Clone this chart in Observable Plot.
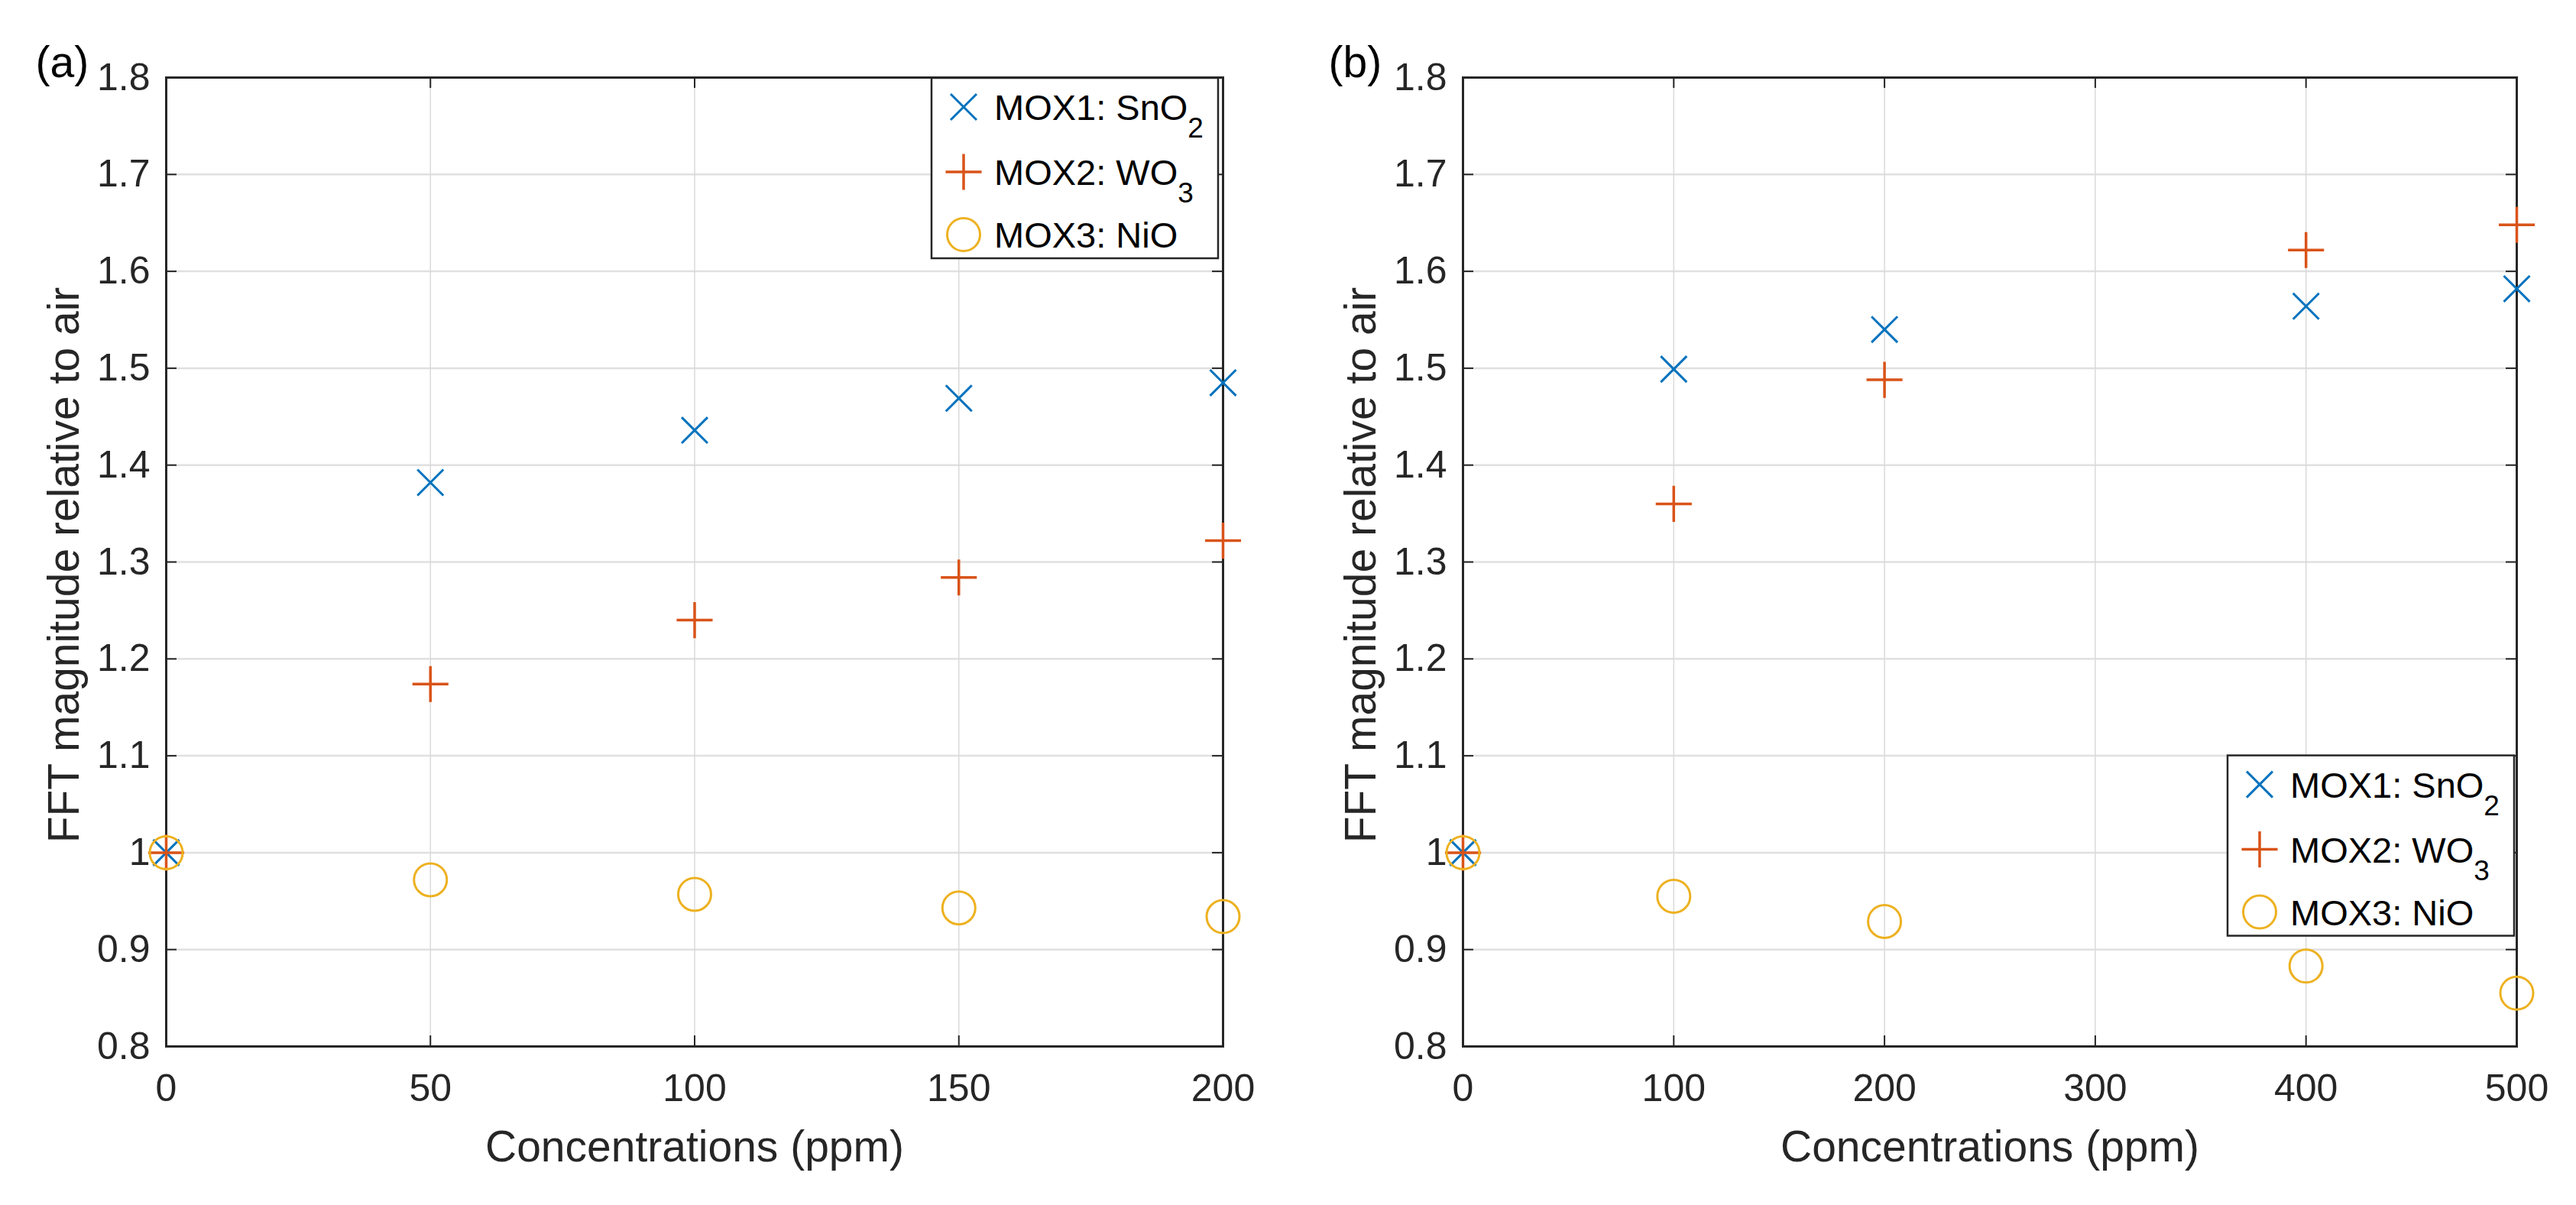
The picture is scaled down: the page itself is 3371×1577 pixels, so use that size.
<!DOCTYPE html>
<html>
<head>
<meta charset="utf-8">
<script src="https://cdn.jsdelivr.net/npm/d3@7"></script>
<script src="https://cdn.jsdelivr.net/npm/@observablehq/plot@0.6"></script>
<style>
  html, body { margin: 0; padding: 0; background: #fff; overflow: hidden; }
  #wrap { display: flex; width: 3371px; height: 1577px; }
  #wrap svg { display: block; }
</style>
</head>
<body>
<div id="wrap"></div>
<script>
// ---------- data ----------
const concA = [0, 50, 100, 150, 200];
const sno2A = [1.000, 1.382, 1.436, 1.469, 1.485];
const wo3A  = [1.000, 1.174, 1.240, 1.284, 1.322];
const nioA  = [1.000, 0.972, 0.957, 0.943, 0.934];

const concB = [0, 100, 200, 400, 500];
const sno2B = [1.000, 1.499, 1.540, 1.564, 1.582];
const wo3B  = [1.000, 1.360, 1.488, 1.622, 1.648];
const nioB  = [1.000, 0.955, 0.929, 0.883, 0.855];

const xTicksA = [0, 50, 100, 150, 200];
const xTicksB = [0, 100, 200, 300, 400, 500];
const yTicks = [0.8, 0.9, 1, 1.1, 1.2, 1.3, 1.4, 1.5, 1.6, 1.7, 1.8];

const seriesNames = ["MOX1: SnO", "MOX2: WO", "MOX3: NiO"];
const seriesSubs  = ["2", "3", ""];
const colors  = ["#0072BD", "#D95319", "#EDB120"];
const symbols = ["times", "plus", "circle"];
const d3symbols = [d3.symbolTimes, d3.symbolPlus, d3.symbolCircle];
const radii   = [15.5, 15.2, 21.5];
const strokeW = [3, 3.5, 3];

const xLabel = "Concentrations (ppm)";
const yLabel = "FFT magnitude relative to air";
const FONT = "'Liberation Sans', Arial, Helvetica, sans-serif";
const INK = "#262626";

function panel({conc, series, xTicks, xMax, width, marginLeft, marginRight, tag, tagDx, legendPos}) {
  const height = 1577, marginTop = 101, marginBottom = 208;
  const innerW = width - marginLeft - marginRight;
  const innerH = height - marginTop - marginBottom;
  const tickLen = 14;

  const marks = [
    Plot.gridY(yTicks, {stroke: "#e0e0e0", strokeOpacity: 1, strokeWidth: 2.5}),
    Plot.gridX(xTicks, {stroke: "#dadada", strokeOpacity: 1, strokeWidth: 1.5}),
    // inward ticks on all four sides
    Plot.ruleX(xTicks, {x: d => d, insetTop: innerH - tickLen, stroke: INK, strokeWidth: 2}),
    Plot.ruleX(xTicks, {x: d => d, insetBottom: innerH - tickLen, stroke: INK, strokeWidth: 2}),
    Plot.ruleY(yTicks, {y: d => d, insetRight: innerW - tickLen, stroke: INK, strokeWidth: 2}),
    Plot.ruleY(yTicks, {y: d => d, insetLeft: innerW - tickLen, stroke: INK, strokeWidth: 2}),
    Plot.frame({stroke: INK, strokeWidth: 3}),
    Plot.axisX(xTicks, {anchor: "bottom", tickSize: 0, tickPadding: 36, fontSize: 50, label: null, tickFormat: d => String(d), fill: INK}),
    Plot.axisY(yTicks, {anchor: "left", tickSize: 0, tickPadding: 21, fontSize: 50, label: null, tickFormat: d3.format("~g"), fill: INK}),
    Plot.text([xLabel], {frameAnchor: "bottom", lineAnchor: "bottom", textAnchor: "middle", dy: 150, fontSize: 57, fill: INK}),
    Plot.text([yLabel], {frameAnchor: "left", lineAnchor: "bottom", textAnchor: "middle", rotate: -90, dx: -115, dy: 4, fontSize: 57, fill: INK}),
    Plot.text([tag], {frameAnchor: "top-left", lineAnchor: "bottom", textAnchor: "start", dx: tagDx, dy: -1, fontSize: 57, fill: "#000"})
  ];
  series.forEach((vals, i) => {
    const data = conc.map((c, j) => ({c, v: vals[j]}));
    marks.push(Plot.dot(data, {x: "c", y: "v", symbol: symbols[i], r: radii[i], fill: "none", stroke: colors[i], strokeWidth: strokeW[i]}));
  });

  const svgEl = Plot.plot({
    width, height, marginTop, marginBottom, marginLeft, marginRight,
    x: {domain: [0, xMax]},
    y: {domain: [0.8, 1.8]},
    style: {fontFamily: FONT, color: INK, background: "#fff", overflow: "visible"},
    marks
  });

  // legend
  const xs = svgEl.scale("x"), ys = svgEl.scale("y");
  const xRight = xs.range[1];
  const {dxRight, top} = legendPos(ys);
  const bw = 375, bh = 236;
  const bx = xRight - dxRight, by = top;
  const svg = d3.select(svgEl);
  const g = svg.append("g").attr("class", "legend").attr("text-anchor", "start");
  g.append("rect").attr("x", bx).attr("y", by).attr("width", bw).attr("height", bh)
    .attr("fill", "#fff").attr("stroke", INK).attr("stroke-width", 2.5);
  const baselines = [55, 140, 222];
  seriesNames.forEach((name, i) => {
    const base = by + baselines[i];
    g.append("path")
      .attr("transform", `translate(${bx + 42},${base - 17})`)
      .attr("d", d3.symbol(d3symbols[i], Math.PI * radii[i] * radii[i])())
      .attr("fill", "none").attr("stroke", colors[i]).attr("stroke-width", strokeW[i]);
    const t = g.append("text").attr("x", bx + 82).attr("y", base)
      .attr("text-anchor", "start")
      .attr("font-size", 47).attr("fill", "#000").text(name);
    if (seriesSubs[i]) t.append("tspan").attr("dy", 23).attr("font-size", 37).text(seriesSubs[i]);
  });
  return svgEl;
}

const wrap = document.getElementById("wrap");
wrap.appendChild(panel({
  conc: concA, series: [sno2A, wo3A, nioA], xTicks: xTicksA, xMax: 200,
  width: 1685, marginLeft: 217, marginRight: 85, tag: "(a)", tagDx: -171,
  legendPos: ys => ({dxRight: 381, top: ys.range[1] + 1})
}));
wrap.appendChild(panel({
  conc: concB, series: [sno2B, wo3B, nioB], xTicks: xTicksB, xMax: 500,
  width: 1686, marginLeft: 229, marginRight: 78, tag: "(b)", tagDx: -176,
  legendPos: ys => ({dxRight: 378, top: ys.apply(1.1)})
}));
</script>
</body>
</html>
